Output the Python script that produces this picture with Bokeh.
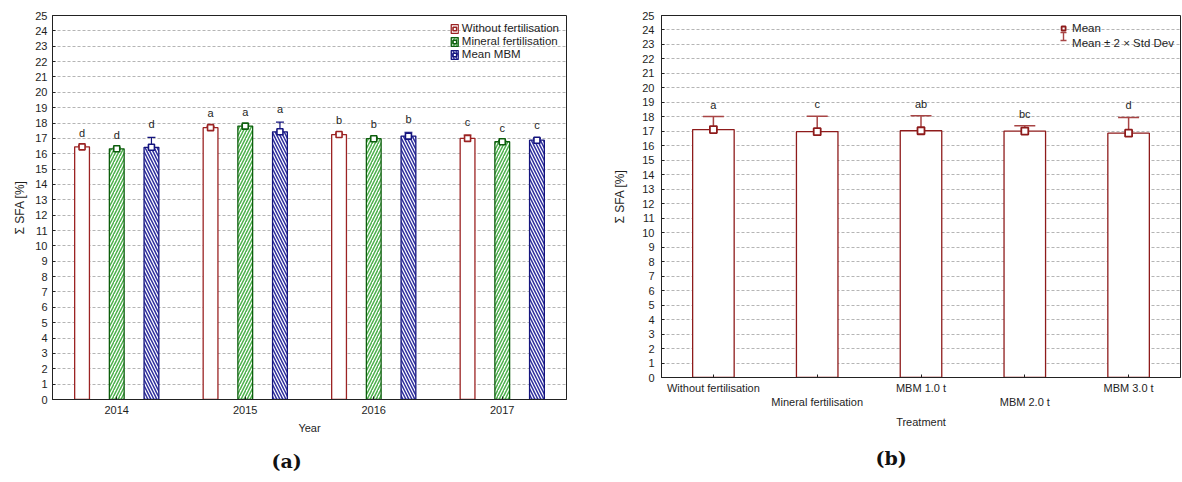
import numpy as np
from bokeh.plotting import figure
from bokeh.layouts import row
from bokeh.models import (ColumnDataSource, Range1d, FixedTicker, Whisker, Arrow,
                          TeeHead, Legend, LegendItem, Title)
from bokeh.core.properties import value
from bokeh.embed import file_html
from bokeh.resources import INLINE

# ---------------- data: panel (a) ----------------
years = ["2014", "2015", "2016", "2017"]
series_names = ["Without fertilisation", "Mineral fertilisation", "Mean MBM"]
without_mean = [16.45, 17.70, 17.25, 17.00]
without_err = [0.08, 0.08, 0.07, 0.22]
mineral_mean = [16.32, 17.80, 16.98, 16.78]
mineral_err = [0.07, 0.08, 0.08, 0.07]
mbm_mean = [16.42, 17.43, 17.15, 16.88]
mbm_err = [0.65, 0.63, 0.25, 0.12]
without_letters = ["d", "a", "b", "c"]
mineral_letters = ["d", "a", "b", "c"]
mbm_letters = ["d", "a", "b", "c"]

# ---------------- data: panel (b) ----------------
treatments = ["Without fertilisation", "Mineral fertilisation", "MBM 1.0 t", "MBM 2.0 t", "MBM 3.0 t"]
treat_mean = [17.12, 16.98, 17.04, 17.02, 16.87]
treat_upper = [18.02, 18.05, 18.07, 17.39, 17.96]
treat_lower = [16.12, 15.81, 15.98, 16.60, 15.72]
treat_letters = ["a", "c", "ab", "bc", "d"]

y_ticks = list(range(0, 26))

FONT = "Liberation Sans"
TXT = "#1e1e1e"
GRID = "#b5b5b5"
RED = "#8e1b1b"
ERR_RED = "#a84545"


def style_common(p, xlabel):
    p.background_fill_color = "white"
    p.border_fill_color = "white"
    p.outline_line_color = "#222222"
    p.outline_line_width = 1
    p.xgrid.visible = False
    p.ygrid.grid_line_color = GRID
    p.ygrid.grid_line_dash = "3 2"
    p.ygrid.grid_line_width = 1
    p.yaxis.ticker = FixedTicker(ticks=y_ticks)
    for ax in (p.xaxis[0], p.yaxis[0]):
        ax.axis_line_color = "#222222"
        ax.major_tick_line_color = "#222222"
        ax.major_tick_in = 3
        ax.major_tick_out = 0
        ax.minor_tick_line_color = None
        ax.major_label_text_font = FONT
        ax.major_label_text_font_size = "11px"
        ax.major_label_text_color = TXT
        ax.axis_label_text_font = FONT
        ax.axis_label_text_font_style = "normal"
        ax.axis_label_text_color = TXT
    p.yaxis.axis_label = "Σ SFA [%]"
    p.yaxis.axis_label_text_font_size = "12px"
    p.xaxis.axis_label = xlabel
    p.xaxis.axis_label_text_font_size = "11px"


def caption(text, offset, standoff):
    return Title(text=text, align="left", offset=offset, standoff=standoff,
                 vertical_align="bottom", text_font="DejaVu Serif", text_font_style="bold",
                 text_font_size="19px", text_color="#111111")


# ================= panel (a) =================
n_years = len(years)
centers_a = np.arange(1, n_years + 1)
p1 = figure(width=590, height=482, x_range=Range1d(0.5, n_years + 0.5), y_range=Range1d(0, 25),
            output_backend="svg", toolbar_location=None,
            min_border_left=52, min_border_right=24, min_border_top=15, min_border_bottom=83)
p1.frame_align = False
style_common(p1, "Year")
p1.xaxis.ticker = FixedTicker(ticks=list(centers_a))
p1.xaxis.major_label_overrides = {int(c): y for c, y in zip(centers_a, years)}
p1.xaxis.major_label_standoff = 6
p1.xaxis.axis_label_standoff = 5
p1.yaxis.major_label_standoff = 5
p1.yaxis.axis_label_standoff = 5

series = [
    (without_mean, without_err, without_letters, series_names[0], "#9b2323", None, None),
    (mineral_mean, mineral_err, mineral_letters, series_names[1], "#0d5e0d", "/", "#4cb04c"),
    (mbm_mean, mbm_err, mbm_letters, series_names[2], "#14147e", "\\", "#2e2e9e"),
]
offsets = [-0.27, 0.0, 0.27]
items = []
for (mean, err, letters, name, col, hatch, hcol), off in zip(series, offsets):
    mean = np.array(mean)
    err = np.array(err)
    src = ColumnDataSource(dict(x=centers_a + off, top=mean, upper=mean + err,
                                lower=mean - err, label=letters))
    kw = dict(hatch_pattern=hatch, hatch_color=hcol, hatch_scale=6, hatch_weight=1.5) if hatch else {}
    vb = p1.vbar(x="x", top="top", bottom=0, width=0.115, source=src, fill_color="white",
                 line_color=col, line_width=1.3, **kw)
    p1.add_layout(Whisker(source=src, base="x", upper="upper", lower="lower",
                          line_color=col, line_width=1.2,
                          upper_head=TeeHead(size=8, line_color=col, line_width=1.2),
                          lower_head=TeeHead(size=8, line_color=col, line_width=1.2)))
    sc = p1.scatter(x="x", y="top", source=src, marker="square", size=6,
                    line_color=col, line_width=1.6, fill_color="white")
    p1.text(x="x", y="upper", text="label", source=src, text_align="center",
            text_baseline="middle", y_offset=-13, text_font=value(FONT),
            text_font_size="11px", text_color=TXT)
    items.append(LegendItem(label=name, renderers=[vb, sc]))

leg1 = Legend(items=items, location="top_right", border_line_color="white",
              border_line_alpha=0, background_fill_alpha=0, label_text_font=FONT,
              label_text_font_size="11.5px", label_text_color=TXT, glyph_width=9,
              glyph_height=11, label_height=12, spacing=1, padding=6, margin=1,
              label_standoff=3)
p1.add_layout(leg1)
p1.add_layout(caption("(a)", 219, 22), "below")

# ================= panel (b) =================
n_t = len(treatments)
centers_b = np.arange(1, n_t + 1)
p2 = figure(width=592, height=482, x_range=Range1d(0.5, n_t + 0.5), y_range=Range1d(0, 25),
            output_backend="svg", toolbar_location=None,
            min_border_left=71, min_border_right=2, min_border_top=15, min_border_bottom=99)
p2.frame_align = False
style_common(p2, "Treatment")
p2.xaxis.ticker = FixedTicker(ticks=list(centers_b))
p2.xaxis.major_label_overrides = {int(c): ("\n" if i % 2 else "") + t
                                  for i, (c, t) in enumerate(zip(centers_b, treatments))}
p2.xaxis.major_label_standoff = 4
p2.xaxis.axis_label_standoff = 5
p2.yaxis.major_label_standoff = 7
p2.yaxis.axis_label_standoff = 12

src_b = ColumnDataSource(dict(x=centers_b, top=treat_mean, upper=treat_upper,
                              lower=treat_lower, label=treat_letters))
p2.vbar(x="x", top="top", bottom=0, width=0.4, source=src_b, fill_color="white",
        line_color=RED, line_width=1.3)
p2.add_layout(Whisker(source=src_b, base="x", upper="upper", lower="lower",
                      line_color=ERR_RED, line_width=1.5,
                      upper_head=TeeHead(size=21, line_color=ERR_RED, line_width=1.5),
                      lower_head=TeeHead(size=21, line_color=ERR_RED, line_width=1.5)))
sc_b = p2.scatter(x="x", y="top", source=src_b, marker="square", size=7,
                  line_color=RED, line_width=1.8, fill_color="white")
p2.text(x="x", y="upper", text="label", source=src_b, text_align="center",
        text_baseline="middle", y_offset=-12, text_font=value(FONT),
        text_font_size="11px", text_color=TXT)
err_icon = p2.scatter(x=[np.nan], y=[np.nan], marker="square", size=1,
                      line_alpha=0, fill_alpha=0)
leg2 = Legend(items=[LegendItem(label="Mean", renderers=[sc_b]),
                     LegendItem(label="Mean ± 2 × Std Dev", renderers=[err_icon])],
              location="top_right", border_line_color="white", border_line_alpha=0,
              background_fill_alpha=0, label_text_font=FONT, label_text_font_size="11.5px",
              label_text_color=TXT, glyph_width=10, glyph_height=14, label_height=14,
              spacing=1, padding=6, margin=0, label_standoff=4)
p2.add_layout(leg2)
# "I" shaped icon of the error-bar legend entry
p2.add_layout(Arrow(x_start=402, y_start=337, x_end=402, y_end=345,
                    start_units="screen", end_units="screen",
                    line_color=ERR_RED, line_width=1.4,
                    start=TeeHead(size=6, line_color=ERR_RED, line_width=1.4),
                    end=TeeHead(size=6, line_color=ERR_RED, line_width=1.4)))
p2.add_layout(caption("(b)", 214, 28), "below")

layout = row(p1, p2)
open("out.html", "w").write(file_html(layout, INLINE))
